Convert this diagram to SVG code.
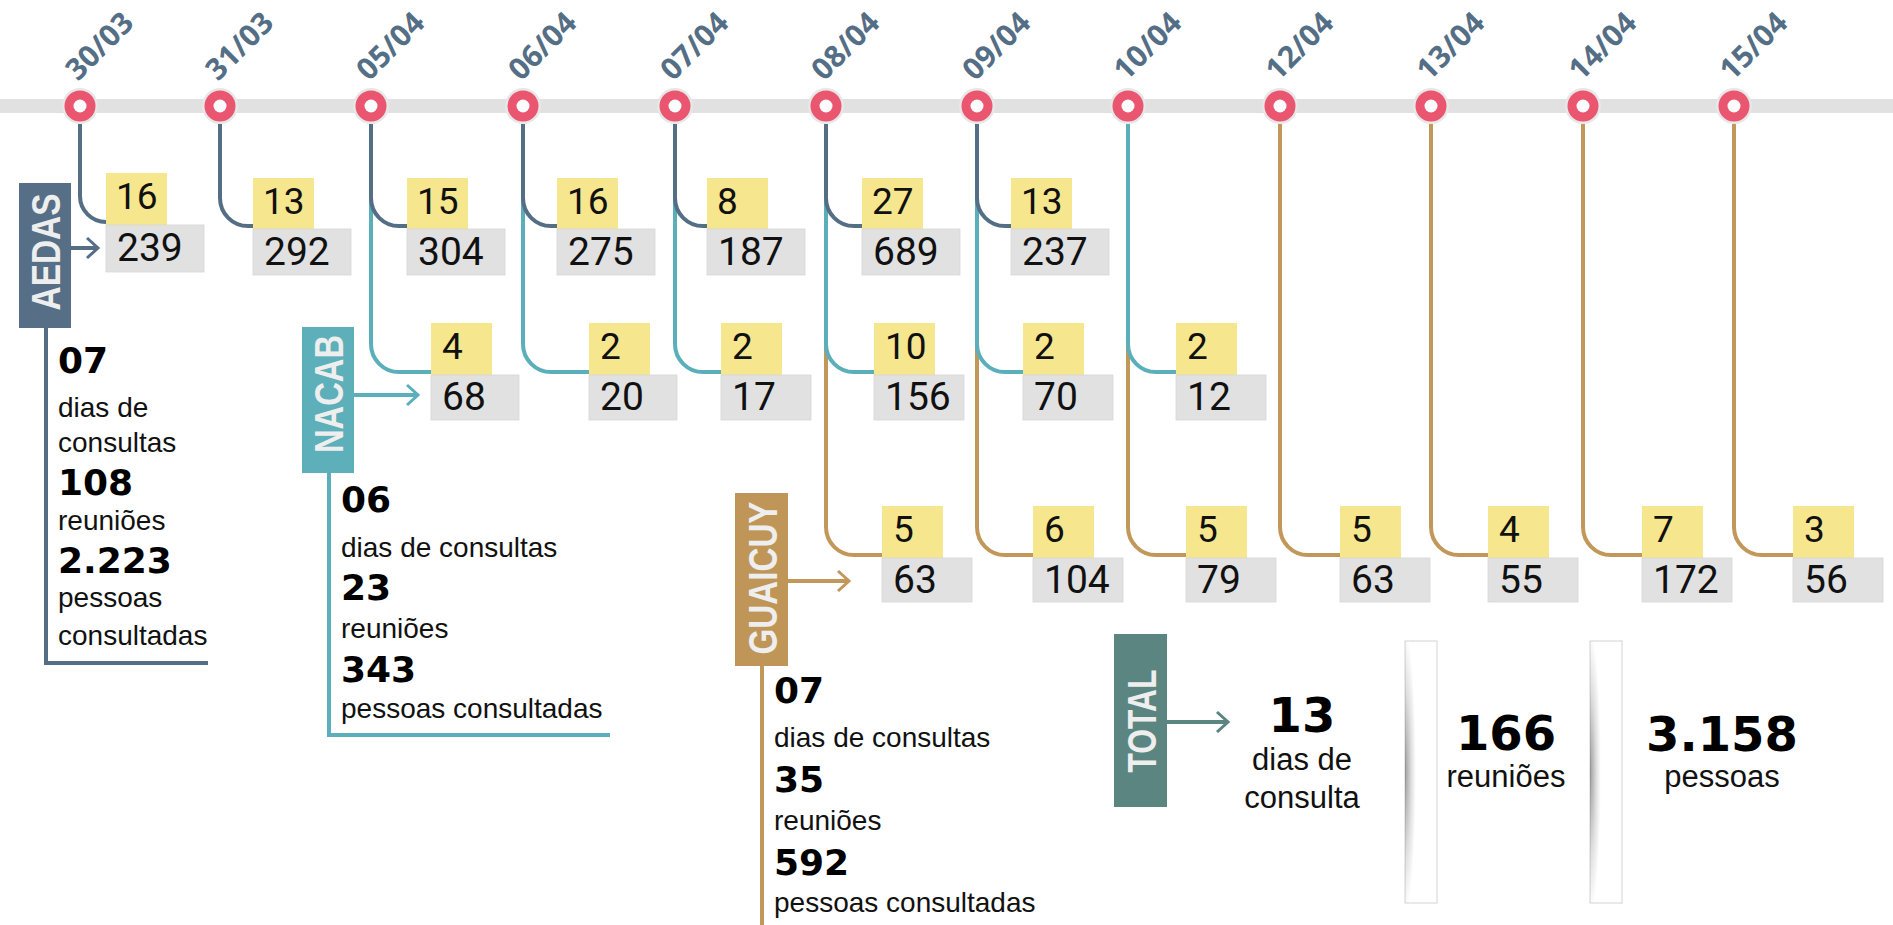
<svg xmlns="http://www.w3.org/2000/svg" width="1893" height="925" viewBox="0 0 1893 925">
<style>
.bar{fill:#E1E1E1}
.halo{fill:#E7E7E7}
.ring{fill:#EA5570}
.hole{fill:#FCFCFC}
.date{font-family:"Open Sans","Liberation Sans",sans-serif;font-weight:700;font-size:30px;fill:#546E86}
.ln{fill:none;stroke-width:4}
.s{stroke:#546E86}
.t{stroke:#5BAFBA}
.g{stroke:#C2975A}
.tt{stroke:#5B8580}
.yb{fill:#F6E68E}
.gb{fill:#E1E1E1;stroke:#D6D6D6;stroke-width:0.8}
.ny{font-family:Roboto,"Liberation Sans",Arial,sans-serif;font-size:37px;fill:#111}
.ng{font-family:Roboto,"Liberation Sans",Arial,sans-serif;font-size:39px;fill:#111}
.lab{font-family:"Liberation Sans",Arial,sans-serif;font-weight:700;font-size:41px;fill:#EEEEEE;text-anchor:middle}
.big{font-family:"DejaVu Sans","Liberation Sans",sans-serif;font-weight:700;font-size:36px;fill:#000}
.txt{font-family:"Liberation Sans",Arial,sans-serif;font-size:28px;fill:#111}
.tbig{font-family:"DejaVu Sans","Liberation Sans",sans-serif;font-weight:700;font-size:48px;fill:#000;text-anchor:middle}
.ttxt{font-family:"Liberation Sans",Arial,sans-serif;font-size:31px;fill:#111;text-anchor:middle}
.panel{fill:#FFFFFF;stroke:#D4D4D4;stroke-width:1}
</style>
<defs>
<marker id="ah-s" markerUnits="userSpaceOnUse" viewBox="-13 -12 16 24" refX="0" refY="0" markerWidth="16" markerHeight="24" orient="auto"><path d="M-11,-10 L0,0 L-11,10" fill="none" stroke="#546E86" stroke-width="3"/></marker>
<marker id="ah-t" markerUnits="userSpaceOnUse" viewBox="-13 -12 16 24" refX="0" refY="0" markerWidth="16" markerHeight="24" orient="auto"><path d="M-11,-10 L0,0 L-11,10" fill="none" stroke="#5BAFBA" stroke-width="3"/></marker>
<marker id="ah-g" markerUnits="userSpaceOnUse" viewBox="-13 -12 16 24" refX="0" refY="0" markerWidth="16" markerHeight="24" orient="auto"><path d="M-11,-10 L0,0 L-11,10" fill="none" stroke="#C2975A" stroke-width="3"/></marker>
<marker id="ah-tt" markerUnits="userSpaceOnUse" viewBox="-13 -12 16 24" refX="0" refY="0" markerWidth="16" markerHeight="24" orient="auto"><path d="M-11,-10 L0,0 L-11,10" fill="none" stroke="#5B8580" stroke-width="3"/></marker>
<radialGradient id="shade" cx="0.5" cy="0.5" r="0.5">
<stop offset="0" stop-color="#000" stop-opacity="0.38"/>
<stop offset="0.6" stop-color="#000" stop-opacity="0.12"/>
<stop offset="1" stop-color="#000" stop-opacity="0"/>
</radialGradient>
<clipPath id="cp1"><rect x="1405" y="641" width="32" height="262"/></clipPath>
<clipPath id="cp2"><rect x="1590" y="641" width="32" height="262"/></clipPath>
</defs>

<rect class="bar" x="0" y="99" width="1893" height="14"/>

<g id="connectors">
<path class="ln g" d="M826 124 V527 A28 28 0 0 0 854 555 H882"/>
<path class="ln g" d="M977 124 V527 A28 28 0 0 0 1005 555 H1033"/>
<path class="ln g" d="M1128 124 V527 A28 28 0 0 0 1156 555 H1186"/>
<path class="ln g" d="M1280 124 V527 A28 28 0 0 0 1308 555 H1340"/>
<path class="ln g" d="M1431 124 V527 A28 28 0 0 0 1459 555 H1488"/>
<path class="ln g" d="M1583 124 V527 A28 28 0 0 0 1611 555 H1642"/>
<path class="ln g" d="M1734 124 V527 A28 28 0 0 0 1762 555 H1793"/>
<path class="ln t" d="M371 124 V344 A28 28 0 0 0 399 372 H431"/>
<path class="ln t" d="M523 124 V344 A28 28 0 0 0 551 372 H589"/>
<path class="ln t" d="M675 124 V344 A28 28 0 0 0 703 372 H721"/>
<path class="ln t" d="M826 124 V344 A28 28 0 0 0 854 372 H874"/>
<path class="ln t" d="M977 124 V344 A28 28 0 0 0 1005 372 H1023"/>
<path class="ln t" d="M1128 124 V344 A28 28 0 0 0 1156 372 H1176"/>
<path class="ln s" d="M80 124 V196 A26 26 0 0 0 106 222"/>
<path class="ln s" d="M220 124 V198 A28 28 0 0 0 248 226 H253"/>
<path class="ln s" d="M371 124 V198 A28 28 0 0 0 399 226 H407"/>
<path class="ln s" d="M523 124 V198 A28 28 0 0 0 551 226 H557"/>
<path class="ln s" d="M675 124 V198 A28 28 0 0 0 703 226 H707"/>
<path class="ln s" d="M826 124 V198 A28 28 0 0 0 854 226 H862"/>
<path class="ln s" d="M977 124 V198 A28 28 0 0 0 1005 226 H1011"/>
<line class="ln s" stroke-width="3.5" x1="71" y1="248" x2="98" y2="248" marker-end="url(#ah-s)"/>
<line class="ln t" stroke-width="3.5" x1="354" y1="395" x2="418" y2="395" marker-end="url(#ah-t)"/>
<line class="ln g" stroke-width="3.5" x1="788" y1="581" x2="849" y2="581" marker-end="url(#ah-g)"/>
<line class="ln tt" stroke-width="3.5" x1="1167" y1="722" x2="1228" y2="722" marker-end="url(#ah-tt)"/>
<path class="ln s" d="M46 328 V663 H208"/>
<path class="ln t" d="M329 473 V735 H610"/>
<path class="ln g" d="M762 666 V925"/>
</g>

<g id="dates">
<g id="d1"><circle class="halo" cx="80" cy="106" r="18"/><circle class="ring" cx="80" cy="106" r="15.5"/><circle class="hole" cx="80" cy="106" r="6.5"/><text class="date" x="78" y="82" transform="rotate(-45 78 82)">30/03</text></g>
<g id="d2"><circle class="halo" cx="220" cy="106" r="18"/><circle class="ring" cx="220" cy="106" r="15.5"/><circle class="hole" cx="220" cy="106" r="6.5"/><text class="date" x="218" y="82" transform="rotate(-45 218 82)">31/03</text></g>
<g id="d3"><circle class="halo" cx="371" cy="106" r="18"/><circle class="ring" cx="371" cy="106" r="15.5"/><circle class="hole" cx="371" cy="106" r="6.5"/><text class="date" x="369" y="82" transform="rotate(-45 369 82)">05/04</text></g>
<g id="d4"><circle class="halo" cx="523" cy="106" r="18"/><circle class="ring" cx="523" cy="106" r="15.5"/><circle class="hole" cx="523" cy="106" r="6.5"/><text class="date" x="521" y="82" transform="rotate(-45 521 82)">06/04</text></g>
<g id="d5"><circle class="halo" cx="675" cy="106" r="18"/><circle class="ring" cx="675" cy="106" r="15.5"/><circle class="hole" cx="675" cy="106" r="6.5"/><text class="date" x="673" y="82" transform="rotate(-45 673 82)">07/04</text></g>
<g id="d6"><circle class="halo" cx="826" cy="106" r="18"/><circle class="ring" cx="826" cy="106" r="15.5"/><circle class="hole" cx="826" cy="106" r="6.5"/><text class="date" x="824" y="82" transform="rotate(-45 824 82)">08/04</text></g>
<g id="d7"><circle class="halo" cx="977" cy="106" r="18"/><circle class="ring" cx="977" cy="106" r="15.5"/><circle class="hole" cx="977" cy="106" r="6.5"/><text class="date" x="975" y="82" transform="rotate(-45 975 82)">09/04</text></g>
<g id="d8"><circle class="halo" cx="1128" cy="106" r="18"/><circle class="ring" cx="1128" cy="106" r="15.5"/><circle class="hole" cx="1128" cy="106" r="6.5"/><text class="date" x="1126" y="82" transform="rotate(-45 1126 82)">10/04</text></g>
<g id="d9"><circle class="halo" cx="1280" cy="106" r="18"/><circle class="ring" cx="1280" cy="106" r="15.5"/><circle class="hole" cx="1280" cy="106" r="6.5"/><text class="date" x="1278" y="82" transform="rotate(-45 1278 82)">12/04</text></g>
<g id="d10"><circle class="halo" cx="1431" cy="106" r="18"/><circle class="ring" cx="1431" cy="106" r="15.5"/><circle class="hole" cx="1431" cy="106" r="6.5"/><text class="date" x="1429" y="82" transform="rotate(-45 1429 82)">13/04</text></g>
<g id="d11"><circle class="halo" cx="1583" cy="106" r="18"/><circle class="ring" cx="1583" cy="106" r="15.5"/><circle class="hole" cx="1583" cy="106" r="6.5"/><text class="date" x="1581" y="82" transform="rotate(-45 1581 82)">14/04</text></g>
<g id="d12"><circle class="halo" cx="1734" cy="106" r="18"/><circle class="ring" cx="1734" cy="106" r="15.5"/><circle class="hole" cx="1734" cy="106" r="6.5"/><text class="date" x="1732" y="82" transform="rotate(-45 1732 82)">15/04</text></g>
</g>

<g id="aedas-boxes">
<g id="a1"><rect class="yb" x="106" y="173" width="61" height="52"/><rect class="gb" x="106" y="225" width="98" height="47"/><text class="ny" x="116" y="209">16</text><text class="ng" x="117" y="261">239</text></g>
<g id="a2"><rect class="yb" x="253" y="178" width="61" height="51"/><rect class="gb" x="253" y="229" width="98" height="46"/><text class="ny" x="263" y="214">13</text><text class="ng" x="264" y="265">292</text></g>
<g id="a3"><rect class="yb" x="407" y="178" width="61" height="51"/><rect class="gb" x="407" y="229" width="98" height="46"/><text class="ny" x="417" y="214">15</text><text class="ng" x="418" y="265">304</text></g>
<g id="a4"><rect class="yb" x="557" y="178" width="61" height="51"/><rect class="gb" x="557" y="229" width="98" height="46"/><text class="ny" x="567" y="214">16</text><text class="ng" x="568" y="265">275</text></g>
<g id="a5"><rect class="yb" x="707" y="178" width="61" height="51"/><rect class="gb" x="707" y="229" width="98" height="46"/><text class="ny" x="717" y="214">8</text><text class="ng" x="718" y="265">187</text></g>
<g id="a6"><rect class="yb" x="862" y="178" width="61" height="51"/><rect class="gb" x="862" y="229" width="98" height="46"/><text class="ny" x="872" y="214">27</text><text class="ng" x="873" y="265">689</text></g>
<g id="a7"><rect class="yb" x="1011" y="178" width="61" height="51"/><rect class="gb" x="1011" y="229" width="98" height="46"/><text class="ny" x="1021" y="214">13</text><text class="ng" x="1022" y="265">237</text></g>
</g>

<g id="nacab-boxes">
<g id="n1"><rect class="yb" x="431" y="323" width="61" height="52"/><rect class="gb" x="431" y="375" width="88" height="45"/><text class="ny" x="442" y="359">4</text><text class="ng" x="442" y="410">68</text></g>
<g id="n2"><rect class="yb" x="589" y="323" width="61" height="52"/><rect class="gb" x="589" y="375" width="88" height="45"/><text class="ny" x="600" y="359">2</text><text class="ng" x="600" y="410">20</text></g>
<g id="n3"><rect class="yb" x="721" y="323" width="61" height="52"/><rect class="gb" x="721" y="375" width="90" height="45"/><text class="ny" x="732" y="359">2</text><text class="ng" x="732" y="410">17</text></g>
<g id="n4"><rect class="yb" x="874" y="323" width="61" height="52"/><rect class="gb" x="874" y="375" width="90" height="45"/><text class="ny" x="885" y="359">10</text><text class="ng" x="885" y="410">156</text></g>
<g id="n5"><rect class="yb" x="1023" y="323" width="61" height="52"/><rect class="gb" x="1023" y="375" width="90" height="45"/><text class="ny" x="1034" y="359">2</text><text class="ng" x="1034" y="410">70</text></g>
<g id="n6"><rect class="yb" x="1176" y="323" width="61" height="52"/><rect class="gb" x="1176" y="375" width="90" height="45"/><text class="ny" x="1187" y="359">2</text><text class="ng" x="1187" y="410">12</text></g>
</g>

<g id="guaicuy-boxes">
<g id="g1"><rect class="yb" x="882" y="506" width="61" height="52"/><rect class="gb" x="882" y="558" width="90" height="44"/><text class="ny" x="893" y="542">5</text><text class="ng" x="893" y="593">63</text></g>
<g id="g2"><rect class="yb" x="1033" y="506" width="61" height="52"/><rect class="gb" x="1033" y="558" width="90" height="44"/><text class="ny" x="1044" y="542">6</text><text class="ng" x="1044" y="593">104</text></g>
<g id="g3"><rect class="yb" x="1186" y="506" width="61" height="52"/><rect class="gb" x="1186" y="558" width="90" height="44"/><text class="ny" x="1197" y="542">5</text><text class="ng" x="1197" y="593">79</text></g>
<g id="g4"><rect class="yb" x="1340" y="506" width="61" height="52"/><rect class="gb" x="1340" y="558" width="90" height="44"/><text class="ny" x="1351" y="542">5</text><text class="ng" x="1351" y="593">63</text></g>
<g id="g5"><rect class="yb" x="1488" y="506" width="61" height="52"/><rect class="gb" x="1488" y="558" width="90" height="44"/><text class="ny" x="1499" y="542">4</text><text class="ng" x="1499" y="593">55</text></g>
<g id="g6"><rect class="yb" x="1642" y="506" width="61" height="52"/><rect class="gb" x="1642" y="558" width="90" height="44"/><text class="ny" x="1653" y="542">7</text><text class="ng" x="1653" y="593">172</text></g>
<g id="g7"><rect class="yb" x="1793" y="506" width="61" height="52"/><rect class="gb" x="1793" y="558" width="90" height="44"/><text class="ny" x="1804" y="542">3</text><text class="ng" x="1804" y="593">56</text></g>
</g>

<g id="aedas">
<rect x="19" y="183" width="52" height="145" fill="#566F86"/>
<text class="lab" x="60" y="252" transform="rotate(-90 60 252)" textLength="117" lengthAdjust="spacingAndGlyphs">AEDAS</text>
<text class="big" x="58" y="373">07</text>
<text class="txt" x="58" y="417">dias de</text>
<text class="txt" x="58" y="452">consultas</text>
<text class="big" x="58" y="495">108</text>
<text class="txt" x="58" y="530">reuniões</text>
<text class="big" x="58" y="573">2.223</text>
<text class="txt" x="58" y="607">pessoas</text>
<text class="txt" x="58" y="645">consultadas</text>
</g>

<g id="nacab">
<rect x="302" y="327" width="52" height="146" fill="#5DAFB9"/>
<text class="lab" x="343" y="394" transform="rotate(-90 343 394)" textLength="118" lengthAdjust="spacingAndGlyphs">NACAB</text>
<text class="big" x="341" y="512">06</text>
<text class="txt" x="341" y="557">dias de consultas</text>
<text class="big" x="341" y="600">23</text>
<text class="txt" x="341" y="638">reuniões</text>
<text class="big" x="341" y="682">343</text>
<text class="txt" x="341" y="718">pessoas consultadas</text>
</g>

<g id="guaicuy">
<rect x="735" y="493" width="53" height="173" fill="#BF9558"/>
<text class="lab" x="777" y="578" transform="rotate(-90 777 578)" textLength="153" lengthAdjust="spacingAndGlyphs">GUAICUY</text>
<text class="big" x="774" y="703">07</text>
<text class="txt" x="774" y="747">dias de consultas</text>
<text class="big" x="774" y="792">35</text>
<text class="txt" x="774" y="830">reuniões</text>
<text class="big" x="774" y="875">592</text>
<text class="txt" x="774" y="912">pessoas consultadas</text>
</g>

<g id="total">
<rect x="1114" y="634" width="53" height="173" fill="#5B8580"/>
<text class="lab" x="1156" y="721" transform="rotate(-90 1156 721)" textLength="103" lengthAdjust="spacingAndGlyphs">TOTAL</text>
<text class="tbig" x="1302" y="732">13</text>
<text class="ttxt" x="1302" y="770">dias de</text>
<text class="ttxt" x="1302" y="808">consulta</text>
<rect class="panel" x="1405" y="641" width="32" height="262"/>
<ellipse cx="1405" cy="772" rx="11" ry="140" fill="url(#shade)" clip-path="url(#cp1)"/>
<text class="tbig" x="1506" y="750">166</text>
<text class="ttxt" x="1506" y="787">reuniões</text>
<rect class="panel" x="1590" y="641" width="32" height="262"/>
<ellipse cx="1590" cy="772" rx="11" ry="140" fill="url(#shade)" clip-path="url(#cp2)"/>
<text class="tbig" x="1722" y="751">3.158</text>
<text class="ttxt" x="1722" y="787">pessoas</text>
</g>
</svg>
